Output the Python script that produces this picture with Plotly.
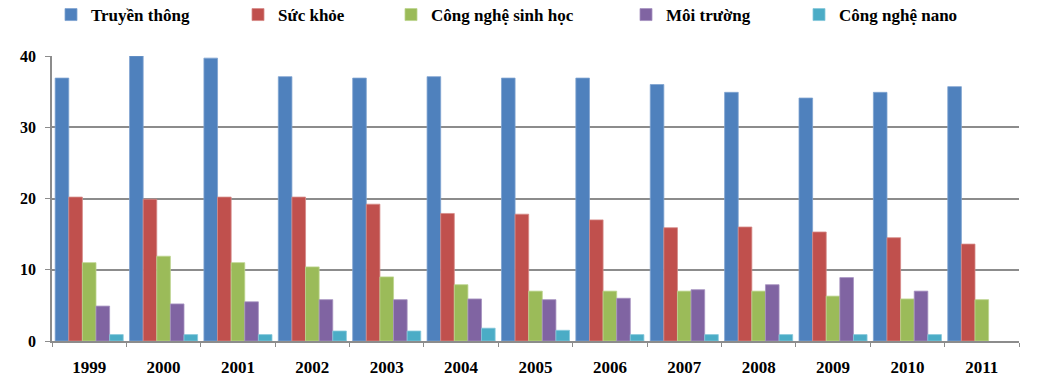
import plotly.graph_objects as go

years = ["1999", "2000", "2001", "2002", "2003", "2004", "2005",
         "2006", "2007", "2008", "2009", "2010", "2011"]

truyen_thong = [36.9, 40.0, 39.7, 37.1, 36.9, 37.1, 36.9, 36.9, 36.0, 34.9, 34.1, 34.9, 35.7]
suc_khoe = [20.2, 19.9, 20.2, 20.2, 19.2, 17.9, 17.8, 17.0, 15.9, 16.0, 15.3, 14.5, 13.6]
cong_nghe_sinh_hoc = [11.0, 11.9, 11.0, 10.4, 9.0, 7.9, 7.0, 7.0, 7.0, 7.0, 6.3, 5.9, 5.8]
moi_truong = [4.9, 5.2, 5.5, 5.8, 5.8, 5.9, 5.8, 6.0, 7.2, 7.9, 8.9, 7.0, None]
cong_nghe_nano = [0.9, 0.9, 0.9, 1.4, 1.4, 1.8, 1.5, 0.9, 0.9, 0.9, 0.9, 0.9, None]

series = [
    ("Truyền thông", truyen_thong, "#4F81BD", "#7FA3D1"),
    ("Sức khỏe", suc_khoe, "#C0504D", "#D68A88"),
    ("Công nghệ sinh học", cong_nghe_sinh_hoc, "#9BBB59", "#BCD48E"),
    ("Môi trường", moi_truong, "#8064A2", "#A692C0"),
    ("Công nghệ nano", cong_nghe_nano, "#4BACC6", "#86C8DA"),
]

# legend symbol centres (px)
legend_x = [82, 269, 422, 657, 830]

W, H = 1040, 385
FF = "Liberation Serif"

fig = go.Figure()
for i, (name, vals, col, edge) in enumerate(series):
    lg = "legend" if i == 0 else f"legend{i+1}"
    fig.add_trace(go.Bar(
        x=years, y=vals, name=name,
        marker=dict(color=col, line=dict(color=edge, width=0.8)),
        legend=lg,
    ))

layout_legends = {}
for i, sx in enumerate(legend_x):
    key = "legend" if i == 0 else f"legend{i+1}"
    layout_legends[key] = dict(
        xref="container", yref="container",
        x=(sx - 31) / W, y=1 - 15 / H,
        xanchor="left", yanchor="middle",
        orientation="h",
        bgcolor="rgba(0,0,0,0)",
        itemwidth=30,
        font=dict(family=FF, size=17, color="black", weight="bold"),
        itemclick=False, itemdoubleclick=False,
    )

fig.update_layout(
    width=W, height=H,
    margin=dict(l=52, r=W - 1019, t=56, b=H - 341, autoexpand=False),
    paper_bgcolor="white", plot_bgcolor="white",
    barmode="group", bargap=0.085, bargroupgap=0,
    showlegend=True,
    font=dict(family=FF, size=16, color="black"),
    **layout_legends,
)

fig.update_xaxes(
    type="category",
    showline=True, linecolor="#8C8C8C", linewidth=1.5,
    ticks="outside", tickson="boundaries", ticklen=4, tickcolor="#8C8C8C", tickwidth=1,
    ticklabelstandoff=10,
    tickfont=dict(family=FF, size=17, color="black", weight="bold"),
    showgrid=False,
)
fig.update_yaxes(
    range=[0, 40], dtick=10, tick0=0,
    showline=True, linecolor="#8C8C8C", linewidth=1.5,
    ticks="outside", ticklen=5, tickcolor="#8C8C8C", tickwidth=1,
    showgrid=True, gridcolor="#8C8C8C", gridwidth=1.5,
    zeroline=False,
    ticklabelstandoff=6,
    tickfont=dict(family=FF, size=16, color="black", weight="bold"),
)

fig.write_html("out.html", config={"displayModeBar": False},
               post_script="document.body.style.margin='0';")
